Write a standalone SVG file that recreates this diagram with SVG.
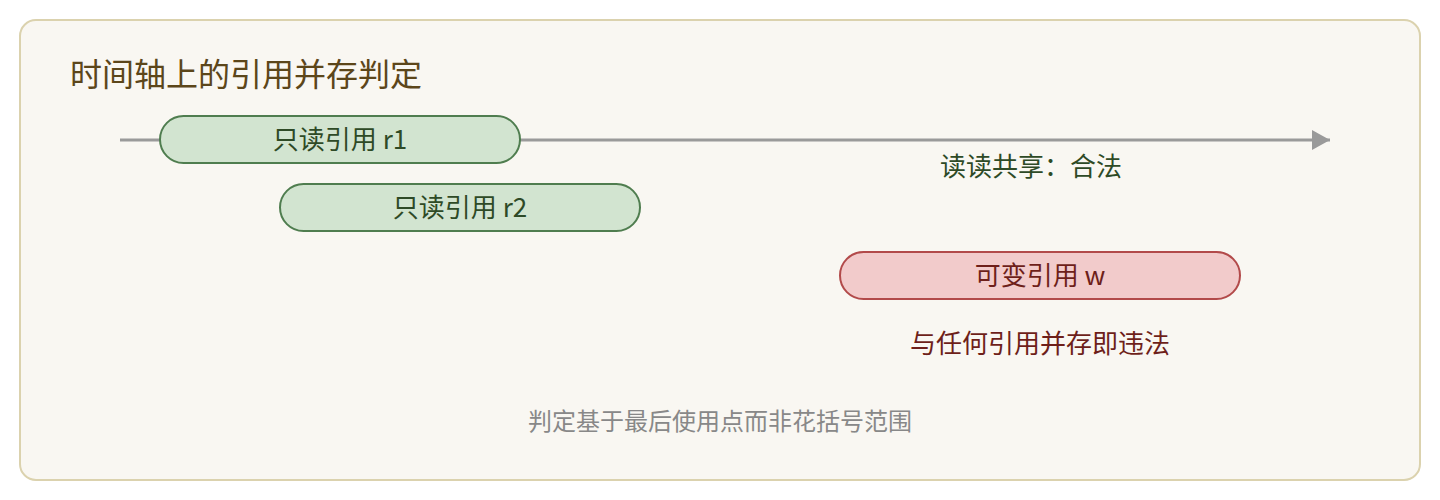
<svg xmlns="http://www.w3.org/2000/svg" width="1440" height="500" viewBox="0 0 1440 500">
<defs>
<style>
text{font-family:"Noto Sans CJK SC","Noto Sans",sans-serif;}
.pill-g{fill:#d2e4d0;stroke:#4f7d4f;stroke-width:2;}
.pill-r{fill:#f2cbcb;stroke:#b24a4a;stroke-width:2;}
.tg{fill:#2e4a26;font-size:26px;text-anchor:middle;}
.tr{fill:#6e1f1a;font-size:26px;text-anchor:middle;}
</style>
<marker id="arr" markerWidth="18" markerHeight="20" refX="18" refY="10" orient="auto" markerUnits="userSpaceOnUse" viewBox="0 0 18 20">
<path d="M0,0 L18,10 L0,20 z" fill="#9a9a9a"/>
</marker>
</defs>
<rect x="20" y="20" width="1400" height="460" rx="16" fill="#f9f7f2" stroke="#dbd2ae" stroke-width="2"/>
<text x="70" y="86" font-size="32" fill="#5c461a">时间轴上的引用并存判定</text>
<g id="connectors">
<line x1="120" y1="140" x2="1330" y2="140" stroke="#9a9a9a" stroke-width="3" marker-end="url(#arr)"/>
</g>
<g id="r1">
<rect class="pill-g" x="160" y="116" width="360" height="47" rx="23.5"/>
<text class="tg" x="340" y="149">只读引用 r1</text>
</g>
<g id="r2">
<rect class="pill-g" x="280" y="184" width="360" height="47" rx="23.5"/>
<text class="tg" x="460" y="217">只读引用 r2</text>
</g>
<g id="w">
<rect class="pill-r" x="840" y="252" width="400" height="47" rx="23.5"/>
<text class="tr" x="1040" y="285">可变引用 w</text>
</g>
<text class="tg" x="1031" y="176">读读共享：合法</text>
<text class="tr" x="1040" y="353">与任何引用并存即违法</text>
<text x="720" y="430" font-size="24" fill="#888888" text-anchor="middle">判定基于最后使用点而非花括号范围</text>
</svg>
